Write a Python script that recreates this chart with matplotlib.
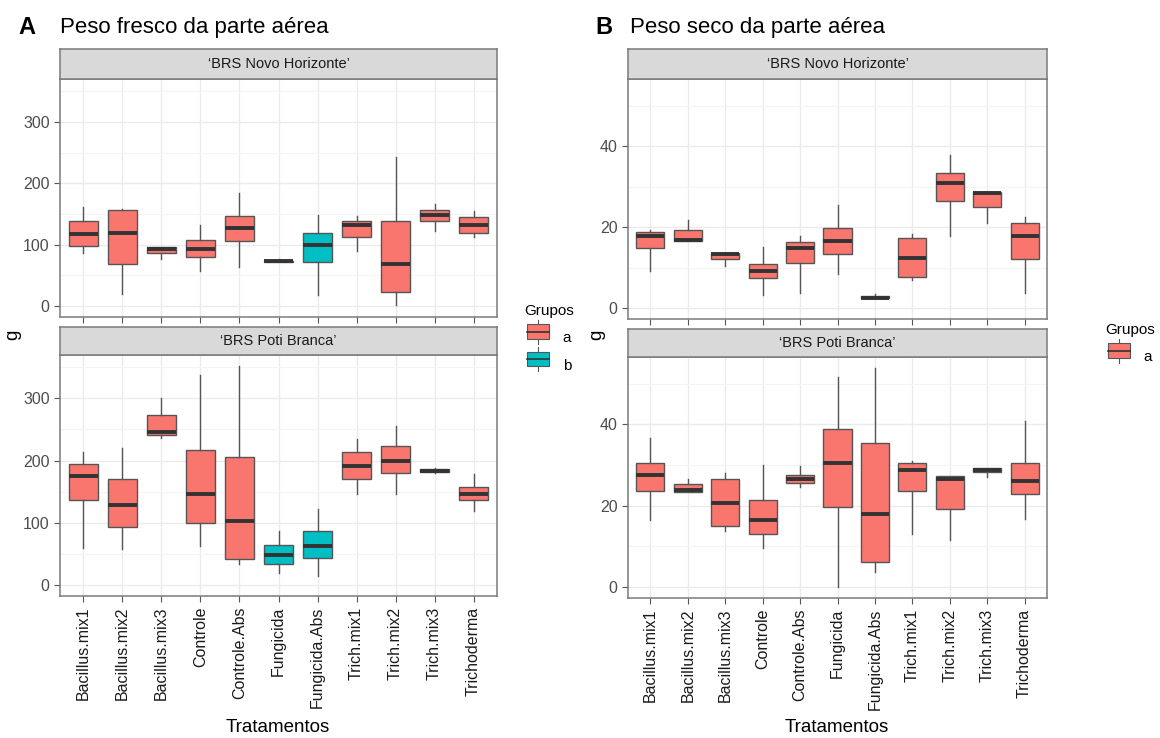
import matplotlib
matplotlib.use("Agg")
import matplotlib.pyplot as plt
from matplotlib.patches import Patch
from matplotlib.legend_handler import HandlerBase
from matplotlib.patches import Rectangle
from matplotlib.lines import Line2D

plt.rcParams['font.family'] = ['Liberation Sans', 'DejaVu Sans']

tratamentos = ['Bacillus.mix1', 'Bacillus.mix2', 'Bacillus.mix3', 'Controle',
               'Controle.Abs', 'Fungicida', 'Fungicida.Abs', 'Trich.mix1',
               'Trich.mix2', 'Trich.mix3', 'Trichoderma']

# Peso fresco - 'BRS Novo Horizonte'  (whislo, q1, med, q3, whishi)
fresco_nh_lo = [87, 20, 77, 58, 63, 72, 19, 89, 2, 122, 112]
fresco_nh_q1 = [98, 68, 87, 80, 106, 72, 72, 112, 23, 139, 119]
fresco_nh_med = [117, 119, 93, 93, 127, 73, 99, 132, 68, 148, 132]
fresco_nh_q3 = [138, 157, 97, 107, 147, 74, 119, 139, 139, 156, 145]
fresco_nh_hi = [162, 158, 97, 132, 184, 76, 148, 147, 242, 167, 155]
fresco_nh_grp = ['a', 'a', 'a', 'a', 'a', 'a', 'b', 'a', 'a', 'a', 'a']

# Peso fresco - 'BRS Poti Branca'
fresco_pb_lo = [59, 58, 236, 62, 34, 20, 15, 146, 147, 180, 119]
fresco_pb_q1 = [137, 94, 241, 99, 42, 34, 44, 170, 180, 181, 137]
fresco_pb_med = [176, 129, 246, 146, 103, 48, 63, 192, 200, 183, 147]
fresco_pb_q3 = [194, 170, 274, 217, 206, 64, 87, 214, 224, 186, 157]
fresco_pb_hi = [214, 220, 300, 337, 352, 87, 122, 234, 256, 188, 179]
fresco_pb_grp = ['a', 'a', 'a', 'a', 'a', 'b', 'b', 'a', 'a', 'a', 'a']

# Peso seco - 'BRS Novo Horizonte'
seco_nh_lo = [9.1, 16.5, 10.4, 3.3, 3.8, 8.3, 2.4, 7.0, 17.8, 21.0, 3.8]
seco_nh_q1 = [14.9, 16.5, 12.1, 7.4, 11.2, 13.3, 2.4, 7.6, 26.5, 24.9, 12.1]
seco_nh_med = [17.9, 16.9, 13.3, 9.1, 14.9, 16.6, 2.6, 12.3, 30.8, 28.5, 17.8]
seco_nh_q3 = [18.9, 19.4, 13.7, 10.9, 16.4, 19.7, 2.9, 17.3, 33.3, 28.7, 20.9]
seco_nh_hi = [19.2, 21.8, 13.7, 15.1, 17.8, 25.5, 3.6, 18.2, 37.9, 28.7, 22.5]

# Peso seco - 'BRS Poti Branca'
seco_pb_lo = [16.4, 23.5, 13.8, 9.5, 24.6, 0.0, 3.8, 13.1, 11.5, 27.1, 16.8]
seco_pb_q1 = [23.7, 23.5, 14.9, 13.1, 25.7, 19.8, 6.2, 23.7, 19.2, 28.3, 22.9]
seco_pb_med = [27.6, 23.8, 20.7, 16.4, 26.6, 30.4, 17.9, 28.9, 26.7, 28.9, 26.1]
seco_pb_q3 = [30.6, 25.3, 26.5, 21.3, 27.6, 38.9, 35.5, 30.6, 27.3, 29.3, 30.6]
seco_pb_hi = [36.6, 26.5, 28.0, 30.1, 29.8, 51.7, 53.9, 31.0, 27.3, 29.3, 40.9]
seco_grp = ['a'] * 11

cores = {'a': '#F8766D', 'b': '#00BFC4'}

W, H = 1160, 738
fig = plt.figure(figsize=(W / 100, H / 100), dpi=100)


def px_axes(x0, y0, x1, y1):
    return fig.add_axes([x0 / W, 1 - y1 / H, (x1 - x0) / W, (y1 - y0) / H])


def painel(box, strip, lo, q1, med, q3, hi, grp, ylim, major, minor, titulo, xlabels):
    ax = px_axes(*box)
    stats = []
    for i in range(len(tratamentos)):
        stats.append(dict(whislo=lo[i], q1=q1[i], med=med[i], q3=q3[i], whishi=hi[i], fliers=[]))
    bp = ax.bxp(stats, positions=range(1, 12), widths=0.75, patch_artist=True,
                showcaps=False,
                boxprops=dict(edgecolor='#555555', linewidth=1.0),
                whiskerprops=dict(color='#555555', linewidth=1.0),
                medianprops=dict(color='#333333', linewidth=2.8, solid_capstyle='butt'))
    for patch, g in zip(bp['boxes'], grp):
        patch.set_facecolor(cores[g])
    ax.set_xlim(0.4, 11.6)
    ax.set_ylim(*ylim)
    ax.set_yticks(major)
    ax.set_yticks(minor, minor=True)
    ax.set_xticks(range(1, 12))
    ax.grid(True, which='major', color='#EBEBEB', linewidth=1.0)
    ax.grid(True, which='minor', axis='y', color='#F4F4F4', linewidth=0.8)
    ax.set_axisbelow(True)
    for s in ax.spines.values():
        s.set_color('#7A7A7A')
        s.set_linewidth(1.1)
    ax.tick_params(which='major', length=4, color='#555555', labelsize=11.5,
                   labelcolor='#4D4D4D')
    ax.tick_params(which='minor', length=0)
    if xlabels:
        ax.set_xticklabels(tratamentos, rotation=90, fontsize=11.5, color='#1A1A1A')
    else:
        ax.set_xticklabels([])

    sx = px_axes(*strip)
    sx.set_facecolor('#D9D9D9')
    sx.set_xticks([])
    sx.set_yticks([])
    for s in sx.spines.values():
        s.set_color('#7A7A7A')
        s.set_linewidth(1.1)
    sx.text(0.5, 0.5, titulo, ha='center', va='center', fontsize=10.5, color='#1A1A1A',
            transform=sx.transAxes)
    return ax


class BoxKey(HandlerBase):
    def create_artists(self, legend, orig, xd, yd, w, h, fontsize, trans):
        c = orig.get_facecolor()
        r = Rectangle((xd + 2, yd + 0.5), w - 4, h - 1, facecolor=c, edgecolor='#555555',
                      linewidth=0.8, transform=trans)
        m = Line2D([xd + 2, xd + w - 2], [yd + h / 2, yd + h / 2], color='#333333',
                   linewidth=1.2, transform=trans)
        wt = Line2D([xd + w / 2, xd + w / 2], [yd + h - 0.5, yd + h + 3], color='#555555',
                    linewidth=0.8, transform=trans)
        wb = Line2D([xd + w / 2, xd + w / 2], [yd + 0.5, yd - 3], color='#555555',
                    linewidth=0.8, transform=trans)
        return [wt, wb, r, m]


# painel A
painel((60, 79, 497, 317), (60, 49, 497, 79), fresco_nh_lo, fresco_nh_q1, fresco_nh_med,
       fresco_nh_q3, fresco_nh_hi, fresco_nh_grp, (-17.6, 369.6), [0, 100, 200, 300],
       [50, 150, 250, 350], "\u2018BRS Novo Horizonte\u2019", False)
axA = painel((60, 355, 497, 596), (60, 327, 497, 355), fresco_pb_lo, fresco_pb_q1, fresco_pb_med,
             fresco_pb_q3, fresco_pb_hi, fresco_pb_grp, (-17.6, 369.6), [0, 100, 200, 300],
             [50, 150, 250, 350], "\u2018BRS Poti Branca\u2019", True)

# painel B
painel((628, 79, 1047, 319), (628, 49, 1047, 79), seco_nh_lo, seco_nh_q1, seco_nh_med,
       seco_nh_q3, seco_nh_hi, seco_grp, (-2.7, 56.6), [0, 20, 40], [10, 30, 50],
       "\u2018BRS Novo Horizonte\u2019", False)
axB = painel((628, 357, 1047, 598), (628, 329, 1047, 357), seco_pb_lo, seco_pb_q1, seco_pb_med,
             seco_pb_q3, seco_pb_hi, seco_grp, (-2.7, 56.6), [0, 20, 40], [10, 30, 50],
             "\u2018BRS Poti Branca\u2019", True)

# titulos
fig.text(18 / W, 1 - 27 / H, "A", fontsize=17, fontweight='bold', va='center')
fig.text(60 / W, 1 - 27 / H, "Peso fresco da parte a\u00e9rea", fontsize=16, va='center')
fig.text(595 / W, 1 - 27 / H, "B", fontsize=17, fontweight='bold', va='center')
fig.text(630 / W, 1 - 27 / H, "Peso seco da parte a\u00e9rea", fontsize=16, va='center')

# eixos
fig.text(278 / W, 1 - 727 / H, "Tratamentos", fontsize=13.5, ha='center', va='center')
fig.text(837 / W, 1 - 727 / H, "Tratamentos", fontsize=13.5, ha='center', va='center')
fig.text(13 / W, 1 - 335 / H, "g", fontsize=13.5, rotation=90, ha='center', va='center')
fig.text(597 / W, 1 - 335 / H, "g", fontsize=13.5, rotation=90, ha='center', va='center')

# legendas
hA = [Patch(facecolor=cores['a']), Patch(facecolor=cores['b'])]
legA = fig.legend(hA, ['a', 'b'], title='Grupos', loc='upper left',
                  bbox_to_anchor=(517 / W, 1 - 296 / H), frameon=False, fontsize=11,
                  title_fontsize=11, handler_map={Patch: BoxKey()}, handlelength=1.8,
                  handleheight=1.2, labelspacing=0.75, handletextpad=0.7, borderpad=0)
legA._legend_box.align = 'left'
hB = [Patch(facecolor=cores['a'])]
legB = fig.legend(hB, ['a'], title='Grupos', loc='upper left',
                  bbox_to_anchor=(1098 / W, 1 - 315 / H), frameon=False, fontsize=11,
                  title_fontsize=11, handler_map={Patch: BoxKey()}, handlelength=1.8,
                  handleheight=1.2, labelspacing=0.75, handletextpad=0.7, borderpad=0)
legB._legend_box.align = 'left'

fig.savefig("out.png", dpi=100)
